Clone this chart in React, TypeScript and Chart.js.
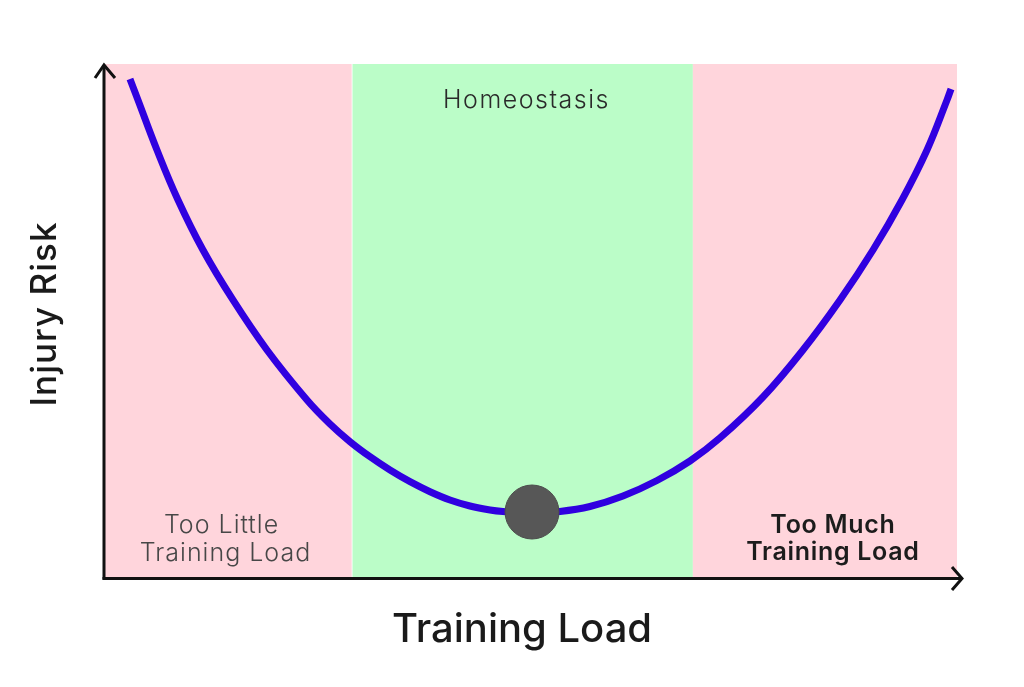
import React, { useEffect, useRef } from 'react';
import { Chart, registerables } from 'chart.js';

Chart.register(...registerables);

// Injury risk curve (x: training load 0-100, y: injury risk 0-100)
const curveX = [2.93, 3.87, 6.10, 8.57, 11.50, 15.02, 19.01, 23.71, 26.41, 28.76, 31.10, 33.45, 35.80, 38.15, 40.49, 42.84, 45.19, 46.71, 50.12, 53.40, 56.92, 60.80, 64.79, 68.66, 72.18, 77.23, 81.92, 86.27, 90.14, 93.54, 96.48, 98.83, 99.30];
const curveY = [97.08, 93.00, 83.27, 73.54, 63.81, 54.09, 44.36, 34.63, 29.96, 26.52, 23.60, 21.01, 18.74, 16.79, 15.18, 14.01, 13.23, 12.94, 12.65, 12.94, 13.91, 15.95, 18.97, 22.76, 27.24, 35.21, 44.36, 54.09, 63.81, 73.54, 83.27, 93.00, 95.14];

const markerX = [50.12];
const markerY = [12.84];

const zoneEdges = [0, 29, 69, 100];
const zoneColors = ['#ffd5dc', '#bbfdc8', '#ffd5dc'];
const zoneLabels = [['Too Little', 'Training Load'], ['Homeostasis'], ['Too Much', 'Training Load']];

const xTitle = 'Training Load';
const yTitle = 'Injury Risk';

const FONT = 'Inter, "Noto Sans", sans-serif';

const decorPlugin = {
  id: 'decor',
  beforeDatasetsDraw(chart: any) {
    const { ctx, chartArea, scales } = chart;
    const xs = scales.x;
    ctx.save();
    for (let i = 0; i < zoneColors.length; i++) {
      const x0 = xs.getPixelForValue(zoneEdges[i]);
      const x1 = xs.getPixelForValue(zoneEdges[i + 1]);
      ctx.fillStyle = zoneColors[i];
      ctx.fillRect(x0, chartArea.top, x1 - x0, chartArea.bottom - chartArea.top);
    }
    // thin light seam at left edge of middle zone
    ctx.fillStyle = 'rgba(255,255,255,0.8)';
    ctx.fillRect(xs.getPixelForValue(zoneEdges[1]) - 0.5, chartArea.top, 1, chartArea.bottom - chartArea.top);

    ctx.textAlign = 'center';
    ctx.textBaseline = 'alphabetic';
    // left zone label
    const c0 = (xs.getPixelForValue(zoneEdges[0]) + xs.getPixelForValue(zoneEdges[1])) / 2 - 3;
    ctx.fillStyle = '#474747';
    ctx.font = `300 25px ${FONT}`;
    (ctx as any).letterSpacing = '1px';
    ctx.fillText(zoneLabels[0][0], c0 - 4, chartArea.bottom - 45);
    ctx.fillText(zoneLabels[0][1], c0, chartArea.bottom - 17);
    // middle label
    const c1 = (xs.getPixelForValue(zoneEdges[1]) + xs.getPixelForValue(zoneEdges[2])) / 2 + 4;
    ctx.fillStyle = '#2a2a2a';
    ctx.font = `300 25px ${FONT}`;
    (ctx as any).letterSpacing = '1.5px';
    ctx.fillText(zoneLabels[1][0], c1, chartArea.top + 44);
    // right zone label
    const c2 = (xs.getPixelForValue(zoneEdges[2]) + xs.getPixelForValue(zoneEdges[3])) / 2 + 8;
    ctx.fillStyle = '#1c1c1c';
    ctx.font = `600 25px ${FONT}`;
    (ctx as any).letterSpacing = '0.7px';
    ctx.fillText(zoneLabels[2][0], c2, chartArea.bottom - 45);
    ctx.fillText(zoneLabels[2][1], c2, chartArea.bottom - 18);
    (ctx as any).letterSpacing = '0px';
    ctx.restore();
  },
  afterDatasetsDraw(chart: any) {
    const { ctx, chartArea } = chart;
    ctx.save();
    ctx.strokeStyle = '#111111';
    ctx.lineWidth = 3;
    ctx.lineCap = 'butt';
    ctx.lineJoin = 'miter';
    // y axis
    ctx.beginPath();
    ctx.moveTo(chartArea.left - 1, chartArea.bottom + 1.5);
    ctx.lineTo(chartArea.left - 1, chartArea.top + 1);
    ctx.stroke();
    ctx.beginPath();
    ctx.moveTo(chartArea.left - 10, chartArea.top + 14);
    ctx.lineTo(chartArea.left - 1, chartArea.top + 1);
    ctx.lineTo(chartArea.left + 10, chartArea.top + 14);
    ctx.stroke();
    // x axis
    ctx.beginPath();
    ctx.moveTo(chartArea.left - 2.5, chartArea.bottom + 0.5);
    ctx.lineTo(chartArea.right + 4, chartArea.bottom + 0.5);
    ctx.stroke();
    ctx.beginPath();
    ctx.moveTo(chartArea.right - 5, chartArea.bottom - 11);
    ctx.lineTo(chartArea.right + 5, chartArea.bottom + 0.5);
    ctx.lineTo(chartArea.right - 5, chartArea.bottom + 12);
    ctx.stroke();

    // axis titles
    ctx.fillStyle = '#1a1a1a';
    ctx.textAlign = 'center';
    ctx.textBaseline = 'alphabetic';
    ctx.font = `500 40px ${FONT}`;
    ctx.fillText(xTitle, 522, 642);
    ctx.translate(56, 314);
    ctx.rotate(-Math.PI / 2);
    ctx.font = `500 35px ${FONT}`;
    (ctx as any).letterSpacing = '1px';
    ctx.fillText(yTitle, 0, 0);
    (ctx as any).letterSpacing = '0px';
    ctx.restore();
  },
};

export default function App() {
  const ref = useRef<HTMLCanvasElement | null>(null);
  useEffect(() => {
    if (!ref.current) return;
    const chart = new Chart(ref.current, {
      type: 'scatter',
      data: {
        datasets: [
          {
            label: 'Current load',
            data: markerX.map((x, i) => ({ x, y: markerY[i] })),
            pointRadius: 27,
            pointHoverRadius: 27,
            backgroundColor: '#575757',
            borderColor: '#4c4c4c',
            borderWidth: 1,
            showLine: false,
          },
          {
            label: 'Injury risk',
            data: curveX.map((x, i) => ({ x, y: curveY[i] })),
            showLine: true,
            borderColor: '#3000e0',
            borderWidth: 7,
            borderCapStyle: 'butt',
            pointRadius: 0,
            tension: 0.4,
            clip: false,
          },
        ],
      } as any,
      options: {
        responsive: false,
        animation: false,
        events: [],
        layout: { padding: { left: 105, right: 67, top: 64, bottom: 109 } },
        scales: {
          x: { type: 'linear', min: 0, max: 100, display: false },
          y: { type: 'linear', min: 0, max: 100, display: false },
        },
        plugins: { legend: { display: false }, tooltip: { enabled: false } },
      } as any,
      plugins: [decorPlugin],
    });
    return () => chart.destroy();
  }, []);
  return (
    <div style={{ position: 'absolute', left: 0, top: 0, width: 1024, height: 687, background: '#ffffff' }}>
      <canvas ref={ref} width={1024} height={687} style={{ display: 'block' }} />
    </div>
  );
}
